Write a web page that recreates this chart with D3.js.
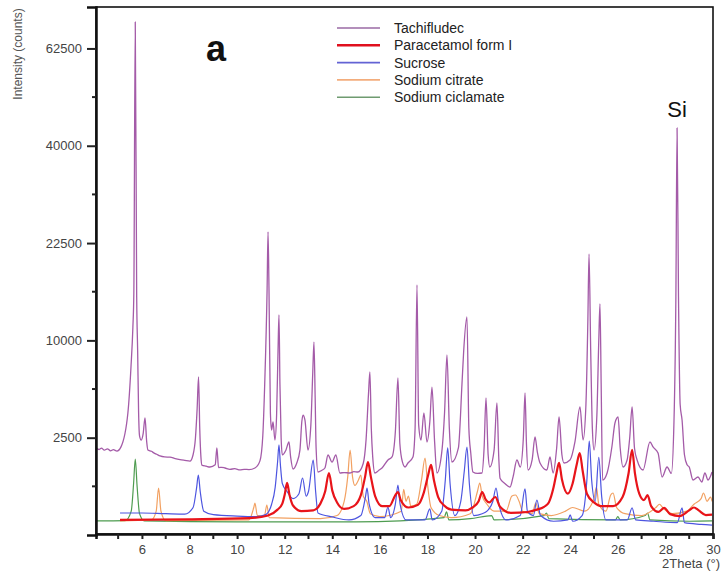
<html>
<style>
body { margin: 0; background: #fff; }
.axis text { font: 13px "Liberation Sans", Arial, sans-serif; fill: #444; }
</style>
<svg width="722" height="575"></svg>
<script src="https://d3js.org/d3.v7.min.js"></script>
<script>

// 2Theta (deg), intensity (counts)
var tachifludec = [[4.07,2000],[4.2,1930],[4.3,1990],[4.42,1900],[4.55,1960],[4.68,1870],[4.8,1920],[4.95,1860],[5.12,2050],[5.41,3930],[5.54,7450],[5.62,11400],[5.66,15400],[5.72,69500],[5.78,15000],[5.82,9000],[5.86,4000],[5.9,2600],[5.97,2380],[6.05,2700],[6.13,3615],[6.2,2300],[6.25,1908],[6.4,1850],[6.5,1780],[6.62,1720],[6.76,1650],[6.95,1610],[7.18,1600],[7.4,1540],[7.6,1500],[7.8,1470],[8.02,1440],[8.15,1700],[8.25,2500],[8.32,4200],[8.38,6590],[8.43,3000],[8.48,1600],[8.52,1290],[8.7,1250],[8.86,1220],[9.08,1300],[9.15,1999],[9.22,1200],[9.35,1210],[9.49,1185],[9.7,1140],[9.9,1160],[10.12,1120],[10.3,1140],[10.5,1130],[10.75,1185],[10.96,1450],[11.08,2600],[11.16,6000],[11.26,15800],[11.30,24250],[11.34,16000],[11.4,3900],[11.45,2911],[11.51,3372],[11.59,2380],[11.66,3800],[11.72,9000],[11.76,12780],[11.8,6000],[11.85,2500],[11.9,1700],[12.05,1900],[12.18,2284],[12.25,1600],[12.35,1150],[12.5,1350],[12.64,1900],[12.72,3400],[12.77,3800],[12.85,3500],[12.98,1908],[13.1,3200],[13.18,7000],[13.23,9830],[13.28,5000],[13.32,2000],[13.4,1048],[13.55,1100],[13.69,1185],[13.82,1690],[13.99,1400],[14.15,1690],[14.32,1015],[14.5,1030],[14.74,1015],[14.9,1060],[15.08,1048],[15.3,1350],[15.42,2400],[15.52,5200],[15.58,7020],[15.64,3000],[15.7,1600],[15.79,1015],[15.95,1100],[16.09,1185],[16.34,1485],[16.51,1607],[16.65,2800],[16.76,6510],[16.84,2200],[16.95,1400],[17.06,1221],[17.18,1369],[17.39,1607],[17.48,3000],[17.56,16500],[17.63,3200],[17.73,2383],[17.85,3930],[17.98,2283],[18.1,3400],[18.19,5780],[18.3,2300],[18.40,1015],[18.6,1800],[18.72,4000],[18.82,8560],[18.92,3000],[19.03,1407],[19.3,2000],[19.45,6000],[19.52,8840],[19.66,12550],[19.74,3000],[19.82,1775],[19.91,1048],[20.1,1000],[20.29,1015],[20.38,2000],[20.46,4956],[20.55,1700],[20.62,1221],[20.8,1900],[20.92,4600],[21.0,1500],[21.05,850],[21.25,700],[21.47,608],[21.6,900],[21.76,1485],[21.9,1221],[22.03,2500],[22.10,5325],[22.16,2200],[22.23,1116],[22.4,1500],[22.52,2536],[22.62,1800],[22.73,1369],[23.02,1116],[23.15,1607],[23.28,1015],[23.43,2000],[23.53,3677],[23.65,1700],[23.74,1369],[23.99,1485],[24.2,2300],[24.41,4330],[24.54,2383],[24.66,4500],[24.74,12000],[24.79,20850],[24.86,9000],[24.93,3000],[25.0,1908],[25.12,3800],[25.2,10000],[25.25,14090],[25.3,6000],[25.36,799],[25.55,1015],[25.75,2045],[25.88,3312],[26.01,3677],[26.1,2000],[26.22,1221],[26.39,1485],[26.5,2500],[26.60,4330],[26.7,2000],[26.81,1485],[27.06,1116],[27.35,2284],[27.48,2045],[27.69,1775],[27.86,888],[28.07,1221],[28.25,1000],[28.36,3400],[28.44,15000],[28.49,43740],[28.55,15000],[28.62,4500],[28.70,3492],[28.8,1700],[28.91,1300],[29.0,1221],[29.16,799],[29.37,888],[29.53,742],[29.66,1015],[29.79,799],[29.96,1048]];

var paracetamol = [[5.08,60],[8,65],[10.5,75],[11.3,100],[11.7,170],[11.9,260],[12.0,430],[12.1,715],[12.2,430],[12.35,230],[12.7,150],[13.2,160],[13.5,260],[13.7,500],[13.86,1015],[14.0,520],[14.2,280],[14.5,180],[14.9,220],[15.2,420],[15.38,900],[15.5,1407],[15.62,900],[15.8,400],[16.1,220],[16.4,220],[16.65,420],[16.76,485],[16.88,320],[17.2,200],[17.6,240],[17.85,480],[18.03,950],[18.15,1295],[18.27,800],[18.45,380],[18.7,230],[19,170],[19.6,160],[19.9,200],[20.15,300],[20.3,488],[20.45,330],[20.6,280],[20.85,381],[21.05,210],[21.5,130],[22.2,140],[22.6,170],[22.9,210],[23.1,280],[23.3,600],[23.42,1000],[23.53,1370],[23.65,820],[23.9,450],[24.1,700],[24.27,1300],[24.4,1775],[24.52,1100],[24.7,450],[25.0,280],[25.3,220],[25.8,220],[26.2,380],[26.45,1000],[26.6,1910],[26.72,1000],[26.9,450],[27.1,320],[27.25,420],[27.4,220],[27.7,140],[27.95,193],[28.2,115],[28.6,95],[29.0,160],[29.2,200],[29.4,160],[29.7,105],[29.96,110]];

var sucrose = [[5.08,128],[6,128],[7,120],[7.8,115],[8.15,200],[8.3,600],[8.37,950],[8.45,500],[8.6,150],[9,110],[10,95],[10.8,90],[11.2,110],[11.45,250],[11.6,600],[11.7,1400],[11.76,2140],[11.82,1300],[11.9,700],[12.1,500],[12.35,350],[12.6,450],[12.75,858],[12.9,400],[13.0,500],[13.2,1485],[13.3,500],[13.4,128],[14,86],[14.7,60],[15.2,100],[15.4,400],[15.46,583],[15.55,250],[15.8,80],[16.2,80],[16.34,207],[16.45,80],[16.65,250],[16.76,660],[16.85,250],[17.1,60],[17.9,60],[18.1,180],[18.2,60],[18.6,150],[18.75,800],[18.85,2000],[18.95,700],[19.15,100],[19.4,300],[19.55,1100],[19.66,2045],[19.76,700],[19.95,100],[20.3,120],[20.5,150],[20.75,300],[20.88,583],[21.0,250],[21.3,60],[21.9,100],[22.1,560],[22.2,150],[22.45,100],[22.6,323],[22.75,100],[23.3,50],[23.9,60],[24.0,106],[24.1,50],[24.5,100],[24.7,800],[24.8,2330],[24.9,800],[25.05,300],[25.2,1590],[25.32,400],[25.5,60],[26.4,60],[26.6,193],[26.75,60],[27.5,50],[28.5,40],[28.7,193],[28.8,40],[29.5,30],[29.96,26]];

var citrate = [[5.08,52],[6.4,60],[6.6,150],[6.7,580],[6.8,150],[7.0,55],[10.5,60],[10.7,200],[10.75,270],[10.85,100],[11.15,100],[11.25,238],[11.35,80],[13.5,70],[14.2,100],[14.5,300],[14.65,900],[14.75,1900],[14.85,900],[14.95,650],[15.1,800],[15.2,950],[15.3,400],[15.45,300],[15.6,120],[16.0,90],[16.9,150],[17.0,550],[17.1,300],[17.2,400],[17.3,220],[17.55,250],[17.75,800],[17.9,1565],[18.0,700],[18.15,200],[18.5,100],[19.0,80],[19.8,120],[20.1,500],[20.2,714],[20.3,400],[20.5,250],[20.8,150],[21.3,150],[21.55,400],[21.7,422],[21.85,300],[22.0,150],[22.4,120],[22.55,270],[22.7,120],[23.2,100],[23.8,150],[24.1,200],[24.6,150],[25.0,350],[25.1,608],[25.2,250],[25.5,150],[25.7,422],[25.8,466],[25.95,200],[26.3,120],[27.0,100],[27.6,200],[27.75,250],[27.9,193],[28.3,120],[28.9,150],[29.2,250],[29.5,350],[29.6,466],[29.75,300],[29.9,381],[29.96,300]];

var ciclamate = [[4.07,52],[5.3,55],[5.55,150],[5.65,700],[5.72,1525],[5.8,600],[5.9,120],[6.1,52],[10,45],[15,45],[18.7,80],[18.8,140],[18.9,60],[19.8,70],[20.7,100],[20.8,60],[22.9,100],[23.0,128],[23.1,70],[25.9,60],[26.0,90],[26.1,60],[27.15,100],[27.25,128],[27.35,60],[29,50],[29.96,52]];

var seriesNames = ["Tachifludec", "Paracetamol form I", "Sucrose", "Sodium citrate", "Sodium ciclamate"];
var seriesColors = ["#a45ba8", "#e8141a", "#4d55e0", "#f2a162", "#4e9c50"];
var legendColors = ["#9a6aa4", "#e0101e", "#6363d4", "#f3ad7c", "#6f9b70"];
var seriesWidths = [1.3, 2.2, 1.2, 1.2, 1.2];
var seriesData = [tachifludec, paracetamol, sucrose, citrate, ciclamate];

var yTicks = [2500, 10000, 22500, 40000, 62500];
var yMinorTicks = [625, 5625, 15625, 30625, 50625];
var xTicks = [6, 8, 10, 12, 14, 16, 18, 20, 22, 24, 26, 28, 30];
var xMinorTicks = [5, 7, 9, 11, 13, 15, 17, 19, 21, 23, 25, 27, 29];

var svg = d3.select("svg"),
    margin = {top: 7, right: 9, bottom: 41, left: 96},
    width = svg.attr("width") - margin.left - margin.right,
    height = svg.attr("height") - margin.top - margin.bottom;

var g = svg.append("g")
    .attr("transform", "translate(" + margin.left + "," + margin.top + ")");

var x = d3.scaleLinear().domain([4.07, 30]).range([0, width]);
var y = d3.scaleSqrt().domain([0, 73600]).range([height + 1, 0]);

g.append("clipPath").attr("id", "clip")
  .append("rect").attr("width", width).attr("height", height);

var line = d3.line()
    .curve(d3.curveMonotoneX)
    .x(d => x(d[0]))
    .y(d => y(d[1]));

// draw back to front: ciclamate, citrate, sucrose, paracetamol, tachifludec
var order = [4, 3, 2, 1, 0];
g.append("g").attr("clip-path", "url(#clip)")
  .selectAll("path")
  .data(order)
  .enter().append("path")
    .attr("d", i => line(seriesData[i]))
    .attr("fill", "none")
    .attr("stroke", i => seriesColors[i])
    .attr("stroke-width", i => seriesWidths[i])
    .attr("stroke-linejoin", "round");

// frame
g.append("rect")
    .attr("width", width).attr("height", height)
    .attr("fill", "none").attr("stroke", "#111").attr("stroke-width", 1.6);

// y axis
var yAxis = g.append("g").attr("class", "axis")
    .call(d3.axisLeft(y).tickValues(yTicks).tickSize(9).tickPadding(5).tickFormat(d3.format("d")));
yAxis.select(".domain").attr("stroke", "#111").attr("stroke-width", 2.5);
yAxis.selectAll(".tick line").attr("stroke", "#222").attr("stroke-width", 2);
yAxis.selectAll(".tick text").attr("font-weight", "bold").attr("fill", "#555");

g.append("g").selectAll("line")
  .data(yMinorTicks)
  .enter().append("line")
    .attr("x1", -4).attr("x2", 0)
    .attr("y1", d => y(d)).attr("y2", d => y(d))
    .attr("stroke", "#222").attr("stroke-width", 2);

// x axis
var xAxis = g.append("g").attr("class", "axis")
    .attr("transform", "translate(0," + height + ")")
    .call(d3.axisBottom(x).tickValues(xTicks).tickSize(5).tickPadding(6).tickFormat(d3.format("d")));
xAxis.select(".domain").attr("stroke", "#111").attr("stroke-width", 2.5);
xAxis.selectAll(".tick line").attr("stroke", "#222").attr("stroke-width", 2);
xAxis.selectAll(".tick text").attr("font-size", "14px").attr("font-weight", "bold").attr("fill", "#555");

g.append("g").selectAll("line")
  .data(xMinorTicks)
  .enter().append("line")
    .attr("x1", d => x(d)).attr("x2", d => x(d))
    .attr("y1", height).attr("y2", height + 5)
    .attr("stroke", "#222").attr("stroke-width", 2);

// axis titles
svg.append("text")
    .attr("transform", "translate(22,54) rotate(-90)")
    .attr("text-anchor", "middle")
    .style("font", "12px 'Liberation Sans', Arial, sans-serif")
    .attr("fill", "#555")
    .text("Intensity (counts)");

svg.append("text")
    .attr("x", 720).attr("y", 568)
    .attr("text-anchor", "end")
    .style("font", "13px 'Liberation Sans', Arial, sans-serif")
    .attr("fill", "#444")
    .text("2Theta (°)");

// panel letter and Si label
svg.append("text")
    .attr("x", 206).attr("y", 61)
    .style("font", "bold 36px 'Liberation Sans', Arial, sans-serif")
    .attr("fill", "#111")
    .text("a");

svg.append("text")
    .attr("x", 677).attr("y", 117)
    .attr("text-anchor", "middle")
    .style("font", "22px 'Liberation Sans', Arial, sans-serif")
    .attr("fill", "#111")
    .text("Si");

// legend
var legend = svg.append("g").attr("transform", "translate(337,28)")
  .selectAll("g")
  .data(seriesNames)
  .enter().append("g")
    .attr("transform", (d, i) => "translate(0," + i * 17.3 + ")");

legend.append("line")
    .attr("x1", 0).attr("x2", 43)
    .attr("stroke", (d, i) => legendColors[i])
    .attr("stroke-width", (d, i) => i === 1 ? 2.6 : 1.6);

legend.append("text")
    .attr("x", 57).attr("y", 5)
    .style("font", "14px 'Liberation Sans', Arial, sans-serif")
    .attr("fill", "#222")
    .text(d => d);

</script>
</html>
